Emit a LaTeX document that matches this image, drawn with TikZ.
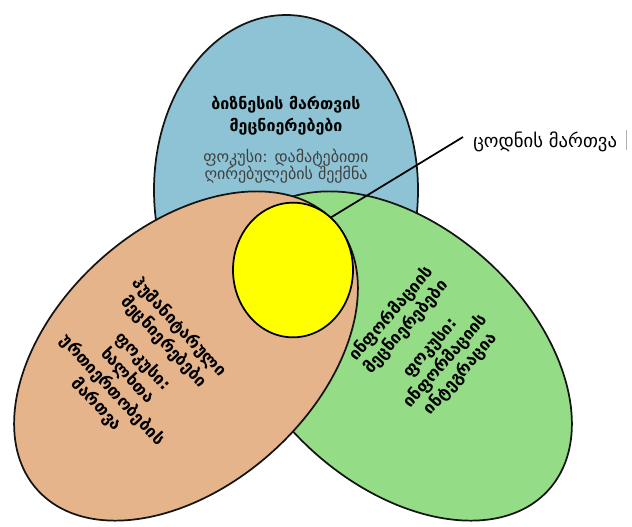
\documentclass[tikz,border=0pt]{standalone}
\usepackage{fontspec}
\setmainfont{DejaVu Sans}
\usetikzlibrary{shapes.geometric}

\begin{document}
\begin{tikzpicture}[x=0.75pt,y=0.75pt,yscale=-1,xscale=1,
	petal/.style={ellipse, draw={rgb, 255:red, 20; green, 20; blue, 20 }, line width=1.3pt, inner sep=0pt},
	boldtext/.style={font=\bfseries\fontsize{12.5}{15.75}\selectfont, align=center, inner sep=0.75pt},
	focustext/.style={font=\fontsize{12}{13}\selectfont, align=center, inner sep=0.75pt, color={rgb, 255:red, 64; green, 64; blue, 64 }}
	]
	\useasboundingbox (0,0) rectangle (632,526);
	
	%Shape: Ellipse (business management)
	\draw (286,190) node [petal, fill={rgb, 255:red, 141; green, 195; blue, 212 }, minimum width=198pt, minimum height=262.5pt] (biz) {};
	%Shape: Ellipse (information sciences)
	\draw (400,356) node [petal, fill={rgb, 255:red, 148; green, 220; blue, 134 }, minimum width=300pt, minimum height=193.5pt, rotate=-42] (info) {};
	%Shape: Ellipse (humanities)
	\draw (186,356) node [petal, fill={rgb, 255:red, 230; green, 180; blue, 138 }, minimum width=300pt, minimum height=193.5pt, rotate=42] (hum) {};
	%Shape: Ellipse (knowledge management)
	\draw (293,270) node [petal, draw=black, fill={rgb, 255:red, 255; green, 255; blue, 0 }, minimum width=90pt, minimum height=101pt] (km) {};
	
	%Straight Lines
	\coordinate (kmend) at (463,137);
	\draw [line width=1.3pt] (kmend) -- (km.54);
	\draw [color={rgb, 255:red, 175; green, 175; blue, 175 }] (626,130) -- (626,150);
	
	% Text Node
	\draw (286,116) node [boldtext, font=\bfseries\fontsize{12}{16.5}\selectfont] (biztitle) {ბიზნესის მართვის\\მეცნიერებები};
	% Text Node
	\draw (286,166.5) node [focustext] (bizfocus) {ფოკუსი: დამატებითი\\ღირებულების შექმნა};
	% Text Node
	\draw (138,366) node [boldtext, rotate=-47] (humtext) {ჰუმანიტარული\\მეცნიერებები\\[6pt]ფოკუსი:\\ხალხთა\\ურთიერთობების\\მართვა};
	% Text Node
	\draw (426,344) node [boldtext, font=\bfseries\fontsize{12.5}{15}\selectfont, rotate=49] (infotext) {ინფორმაციის\\მეცნიერებები\\[9pt]ფოკუსი:\\ინფორმაციის\\ინტეგრაცია};
	% Text Node
	\draw (472,142) node [anchor=west, inner sep=0.75pt, font=\fontsize{14}{16}\selectfont] (kmlabel) {ცოდნის მართვა};
	
\end{tikzpicture}
\end{document}
